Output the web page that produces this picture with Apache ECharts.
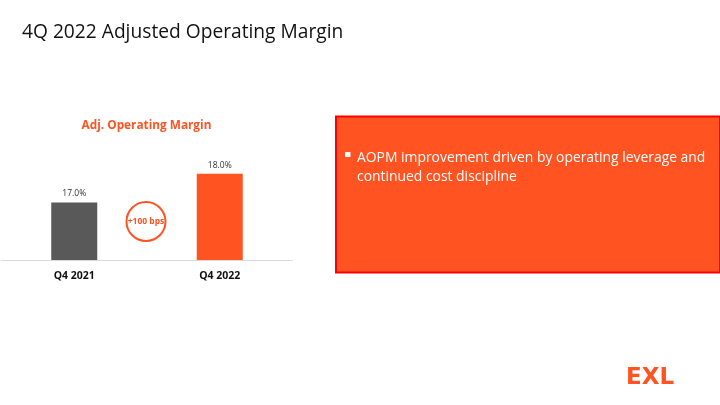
<!DOCTYPE html>
<html>
<head>
<meta charset="utf-8">
<style>html,body{margin:0;padding:0;background:#fff}#c{width:720px;height:405px}</style>
<script src="https://cdn.jsdelivr.net/npm/echarts@6/dist/echarts.min.js"></script>
</head>
<body>
<div id="c"></div>
<script>
const categories = ['Q4 2021', 'Q4 2022'];
const marginValues = [17.0, 18.0];
const barColors = ['#595959', '#FF5322'];
const slideTitle = '4Q 2022 Adjusted Operating Margin';
const chartTitle = 'Adj. Operating Margin';
const changeLabel = '+100 bps';
const noteLines = ['AOPM improvement driven by operating leverage and', 'continued cost discipline'];

const chart = echarts.init(document.getElementById('c'), null, {renderer: 'canvas'});
const FONT = 'Open Sans';
chart.setOption({
  animation: false,
  backgroundColor: '#fff',
  textStyle: {fontFamily: FONT},
  title: [
    {text: slideTitle, left: 22, top: 23, padding: 0, textStyle: {fontFamily: FONT, fontSize: 19.2, fontWeight: 'normal', color: '#111'}},
    {text: chartTitle, left: 146.5, top: 120, padding: 0, textAlign: 'center', textStyle: {fontFamily: FONT, fontSize: 11.8, fontWeight: 'bold', color: '#FF5322'}}
  ],
  grid: {left: 1.5, width: 291, top: 145, height: 115},
  xAxis: {
    type: 'category', data: categories,
    axisLine: {lineStyle: {color: '#D9D9D9', width: 1}},
    axisTick: {show: false},
    axisLabel: {fontFamily: FONT, fontSize: 10.5, fontWeight: 'bold', color: '#111', margin: 11}
  },
  yAxis: {type: 'value', min: 15, max: 19, show: false, splitLine: {show: false}},
  series: [{
    type: 'bar',
    barWidth: 46,
    data: marginValues.map((v, i) => ({value: v, itemStyle: {color: barColors[i]}})),
    label: {show: true, position: 'top', distance: 4, formatter: p => p.value.toFixed(1) + '%', fontFamily: FONT, fontSize: 8.5, color: '#333'}
  }],
  graphic: [
    {type: 'circle', shape: {cx: 146, cy: 221.5, r: 19.5}, style: {fill: '#fff', stroke: '#FF5322', lineWidth: 2}, z: 10},
    {type: 'text', x: 146, y: 221.5, z: 11, style: {text: changeLabel, align: 'center', verticalAlign: 'middle', fontFamily: FONT, fontSize: 8.5, fontWeight: 'bold', fill: '#FF5322'}},
    {type: 'rect', shape: {x: 336, y: 116.5, width: 384, height: 156}, style: {fill: '#FF5322', stroke: '#FF0000', lineWidth: 2}, z: 5},
    {type: 'rect', shape: {x: 345, y: 152, width: 5.5, height: 5}, style: {fill: '#fff'}, z: 6},
    {type: 'text', x: 357, y: 158, z: 6, style: {text: noteLines[0], verticalAlign: 'middle', fontFamily: FONT, fontSize: 13.9, fill: '#fff'}},
    {type: 'text', x: 357, y: 177, z: 6, style: {text: noteLines[1], verticalAlign: 'middle', fontFamily: FONT, fontSize: 13.9, fill: '#fff'}},
    {type: 'text', x: 650, y: 378, z: 6, style: {text: 'EXL', align: 'center', verticalAlign: 'middle', fontFamily: 'DejaVu Sans', fontSize: 23, fontWeight: 'bold', fill: '#FF5322'}}
  ]
});
</script>
</body>
</html>
